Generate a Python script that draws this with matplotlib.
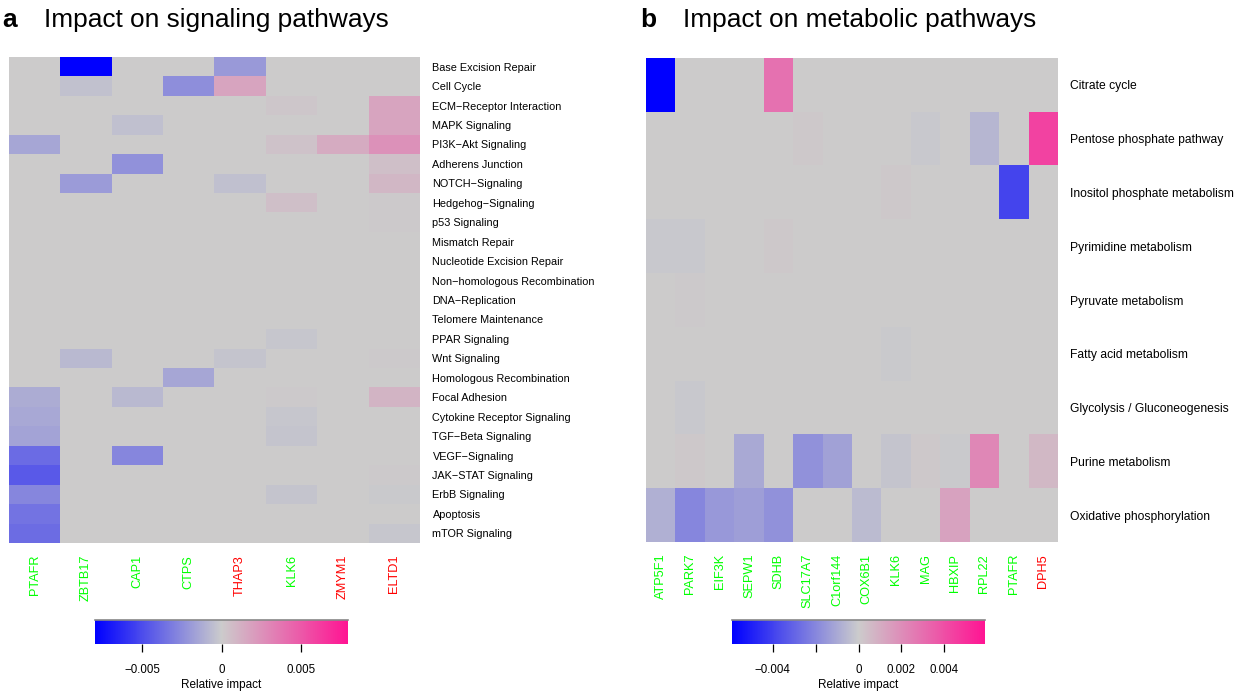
import matplotlib
matplotlib.use("Agg")
import matplotlib.pyplot as plt
import numpy as np
from matplotlib.colors import LinearSegmentedColormap, Normalize
from matplotlib.colorbar import ColorbarBase

plt.rcParams["font.family"] = ["Liberation Sans", "DejaVu Sans"]

# ---- panel a: signaling pathways ----
sig_genes = ["PTAFR", "ZBTB17", "CAP1", "CTPS", "THAP3", "KLK6", "ZMYM1", "ELTD1"]
sig_gene_colors = ["#00ff00", "#00ff00", "#00ff00", "#00ff00", "#ff0000", "#00ff00", "#ff0000", "#ff0000"]
sig_pathways = [
    "Base Excision Repair", "Cell Cycle", "ECM\u2212Receptor Interaction", "MAPK Signaling",
    "PI3K\u2212Akt Signaling", "Adherens Junction", "NOTCH\u2212Signaling", "Hedgehog\u2212Signaling",
    "p53 Signaling", "Mismatch Repair", "Nucleotide Excision Repair",
    "Non\u2212homologous Recombination", "DNA\u2212Replication", "Telomere Maintenance",
    "PPAR Signaling", "Wnt Signaling", "Homologous Recombination", "Focal Adhesion",
    "Cytokine Receptor Signaling", "TGF\u2212Beta Signaling", "VEGF\u2212Signaling",
    "JAK\u2212STAT Signaling", "ErbB Signaling", "Apoptosis", "mTOR Signaling",
]
sig_impact = [
    [0, -0.0080, 0, 0, -0.0020, 0, 0, 0],
    [0, -0.0004, 0, -0.0024, 0.0017, 0, 0, 0],
    [0, 0, 0, 0, 0, 0.0002, 0, 0.0017],
    [0, 0, -0.0005, 0, 0, 0, 0, 0.0017],
    [-0.0015, 0, 0, 0, 0, 0.0004, 0.0014, 0.0025],
    [0, 0, -0.0023, 0, 0, 0, 0, 0.0005],
    [0, -0.0019, 0, 0, -0.0005, 0, 0, 0.0009],
    [0, 0, 0, 0, 0, 0.0005, 0, 0.0001],
    [0, 0, 0, 0, 0, 0, 0, 0.0001],
    [0, 0, 0, 0, 0, 0, 0, 0],
    [0, 0, 0, 0, 0, 0, 0, 0],
    [0, 0, 0, 0, 0, 0, 0, 0],
    [0, 0, 0, 0, 0, 0, 0, 0],
    [0, 0, 0, 0, 0, 0, 0, 0],
    [0, 0, 0, 0, 0, -0.0002, 0, 0],
    [0, -0.0007, 0, 0, -0.0003, 0, 0, 0.0001],
    [0, 0, 0, -0.0015, 0, 0, 0, 0],
    [-0.0012, 0, -0.0007, 0, 0, 0.0001, 0, 0.0010],
    [-0.0014, 0, 0, 0, 0, -0.0002, 0, 0],
    [-0.0016, 0, 0, 0, 0, -0.0003, 0, 0],
    [-0.0038, 0, -0.0027, 0, 0, 0, 0, 0],
    [-0.0045, 0, 0, 0, 0, 0, 0, 0.0001],
    [-0.0027, 0, 0, 0, 0, -0.0003, 0, -0.0001],
    [-0.0035, 0, 0, 0, 0, 0, 0, 0],
    [-0.0037, 0, 0, 0, 0, 0, 0, -0.0002],
]
sig_range = 0.008
sig_ticks = [-0.005, 0, 0.005]
sig_ticklabels = ["\u22120.005", "0", "0.005"]

# ---- panel b: metabolic pathways ----
met_genes = ["ATP5F1", "PARK7", "EIF3K", "SEPW1", "SDHB", "SLC17A7", "C1orf144",
             "COX6B1", "KLK6", "MAG", "HBXIP", "RPL22", "PTAFR", "DPH5"]
met_gene_colors = ["#00ff00"] * 13 + ["#ff0000"]
met_pathways = [
    "Citrate cycle", "Pentose phosphate pathway", "Inositol phosphate metabolism",
    "Pyrimidine metabolism", "Pyruvate metabolism", "Fatty acid metabolism",
    "Glycolysis / Gluconeogenesis", "Purine metabolism", "Oxidative phosphorylation",
]
met_impact = [
    [-0.0059, 0, 0, 0, 0.0029, 0, 0, 0, 0, 0, 0, 0, 0, 0],
    [0, 0, 0, 0, 0, 0.0001, 0, 0, 0, -0.0001, 0, -0.0006, 0, 0.0044],
    [0, 0, 0, 0, 0, 0, 0, 0, 0.0001, 0, 0, 0, -0.0039, 0],
    [-0.0001, -0.0001, 0, 0, 0.0001, 0, 0, 0, 0, 0, 0, 0, 0, 0],
    [0, 0.00005, 0, 0, 0, 0, 0, 0, 0, 0, 0, 0, 0, 0],
    [0, 0, 0, 0, 0, 0, 0, 0, -0.00005, 0, 0, 0, 0, 0],
    [0, -0.0001, 0, 0, 0, 0, 0, 0, 0, 0, 0, 0, 0, 0],
    [0, 0.0001, 0, -0.0010, 0, -0.0017, -0.0012, 0, -0.0002, 0.0001, -0.00005, 0.0022, 0, 0.0006],
    [-0.0008, -0.0020, -0.0015, -0.0013, -0.0017, 0, 0, -0.0005, 0, 0, 0.0013, 0, 0, 0],
]
met_range = 0.0059
met_ticks = [-0.004, -0.002, 0, 0.002, 0.004]
met_ticklabels = ["\u22120.004", "", "0", "0.002", "0.004"]

cmap = LinearSegmentedColormap.from_list("impact", ["#0000ff", "#cccccc", "#ff1493"])

W, H = 1235, 695
fig = plt.figure(figsize=(W / 100, H / 100), dpi=100)


def box(x0, y0, x1, y1):
    # pixel box -> figure fraction [left, bottom, width, height]
    return [x0 / W, 1 - y1 / H, (x1 - x0) / W, (y1 - y0) / H]


def panel(hm_box, cb_box, data, genes, gene_colors, pathways, vrange,
          ticks, ticklabels, row_fs, col_fs, letter, letter_x, title, title_x):
    ax = fig.add_axes(box(*hm_box))
    norm = Normalize(-vrange, vrange)
    ax.imshow(np.array(data), cmap=cmap, norm=norm, aspect="auto", interpolation="nearest")
    for s in ax.spines.values():
        s.set_visible(False)
    ax.set_xticks(range(len(genes)))
    ax.set_xticklabels(genes, rotation=90, fontsize=col_fs)
    for lab, c in zip(ax.get_xticklabels(), gene_colors):
        lab.set_color(c)
    ax.yaxis.tick_right()
    ax.set_yticks(range(len(pathways)))
    ax.set_yticklabels(pathways, fontsize=row_fs)
    ax.tick_params(axis="x", length=0, pad=8.5)
    ax.tick_params(axis="y", length=0, pad=9)

    cax = fig.add_axes(box(*cb_box))
    cb = ColorbarBase(cax, cmap=cmap, norm=norm, orientation="horizontal")
    cb.outline.set_visible(False)
    cax.spines["top"].set_visible(True)
    cax.spines["top"].set_color("#888888")
    cax.spines["top"].set_linewidth(1.2)
    cb.set_ticks(ticks)
    cb.set_ticklabels(ticklabels)
    cax.tick_params(axis="x", length=5.5, width=0.9, pad=9, labelsize=8.3)
    cx = (cb_box[0] + cb_box[2]) / 2
    fig.text(cx / W, 1 - 685 / H, "Relative impact", ha="center", va="center", fontsize=8.5)

    fig.text(letter_x / W, 1 - 27 / H, letter, fontsize=19, fontweight="bold", va="baseline")
    fig.text(title_x / W, 1 - 27 / H, title, fontsize=18.9, va="baseline")


panel((9, 57, 420, 543), (95, 620, 348, 643.5), sig_impact, sig_genes, sig_gene_colors,
      sig_pathways, sig_range, sig_ticks, sig_ticklabels, 7.8, 9.2,
      "a", 2.5, "Impact on signaling pathways", 44)
panel((646, 58, 1058, 542), (732, 620, 985, 643.5), met_impact, met_genes, met_gene_colors,
      met_pathways, met_range, met_ticks, met_ticklabels, 8.7, 9.2,
      "b", 640, "Impact on metabolic pathways", 683)

fig.savefig("out.png", dpi=100)
